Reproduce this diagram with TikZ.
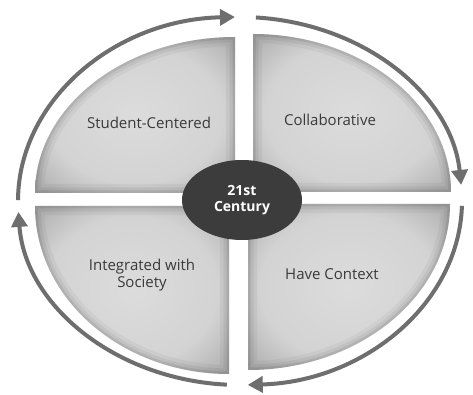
\documentclass[tikz,border=0pt]{standalone}
\usepackage{fontspec}
\setmainfont{Open Sans}
\usetikzlibrary{arrows.meta,shapes.geometric}
\definecolor{qlight}{HTML}{DCDCDC}
\definecolor{qmid}{HTML}{D3D3D3}
\definecolor{qdark}{HTML}{B0B0B0}
\definecolor{arrowgray}{HTML}{6E6E6E}
\definecolor{txtgray}{HTML}{3A3A3A}
\definecolor{coredark}{HTML}{3C3C3C}
\pgfdeclareradialshading{quadshade}{\pgfpoint{0bp}{0bp}}{color(0bp)=(qlight); color(22bp)=(qmid); color(34bp)=(qdark); color(50bp)=(qdark)}
\newcommand\shadedquad[1]{%
  \shade[shading=quadshade] #1;
  \begin{scope}
    \clip #1;
    \draw[line width=18pt, black, opacity=0.04] #1;
    \draw[line width=11pt, black, opacity=0.05] #1;
    \draw[line width=5pt, black, opacity=0.08] #1;
  \end{scope}}
\begin{document}
\begin{tikzpicture}[x=1pt,y=-1pt,
  cyclearrow/.style={line width=4pt, draw=arrowgray, -{Triangle[length=15pt,width=16pt]}},
  lbl/.style={text=txtgray, font=\fontsize{15}{17}\selectfont, align=center},
  core/.style={ellipse, fill=coredark, minimum width=120pt, minimum height=80pt, inner sep=0pt,
    text=white, font=\bfseries\fontsize{14}{16.5}\selectfont, align=center}]
\useasboundingbox (0,0) rectangle (473,395);
\fill[white] (0,0) rectangle (473,395);
% quadrants
\shadedquad{(235,193) -- (35,193) arc[start angle=180,end angle=270,x radius=200,y radius=156] -- cycle}
\shadedquad{(253,192) -- (253,34) arc[start angle=270,end angle=360,x radius=198,y radius=158] -- cycle}
\shadedquad{(248,204) -- (450,204) arc[start angle=0,end angle=90,x radius=202,y radius=166] -- cycle}
\shadedquad{(229,206) -- (229,374) arc[start angle=90,end angle=180,x radius=194,y radius=168] -- cycle}
% cycle arrows
\draw[cyclearrow] ({240+222*cos(180.3)},{201+184*sin(180.3)}) arc[start angle=180.3,end angle=268.7,x radius=222,y radius=184];
\draw[cyclearrow] ({240+222*cos(274.1)},{201+184*sin(274.1)}) arc[start angle=274.1,end angle=355,x radius=222,y radius=184];
\draw[cyclearrow] ({240+222*cos(1.5)},{201+184*sin(1.5)}) arc[start angle=1.5,end angle=88,x radius=222,y radius=184];
\draw[cyclearrow] ({240+222*cos(93.4)},{201+184*sin(93.4)}) arc[start angle=93.4,end angle=176.6,x radius=222,y radius=184];
% labels
\node[lbl] (sc) at (149,123) {Student-Centered};
\node[lbl] (co) at (330,120) {Collaborative};
\node[lbl] (iw) at (142,275) {Integrated with\\Society};
\node[lbl] (hc) at (332,274) {Have Context};
\node[core] (c) at (242,200) {21st\\Century};
\end{tikzpicture}
\end{document}
